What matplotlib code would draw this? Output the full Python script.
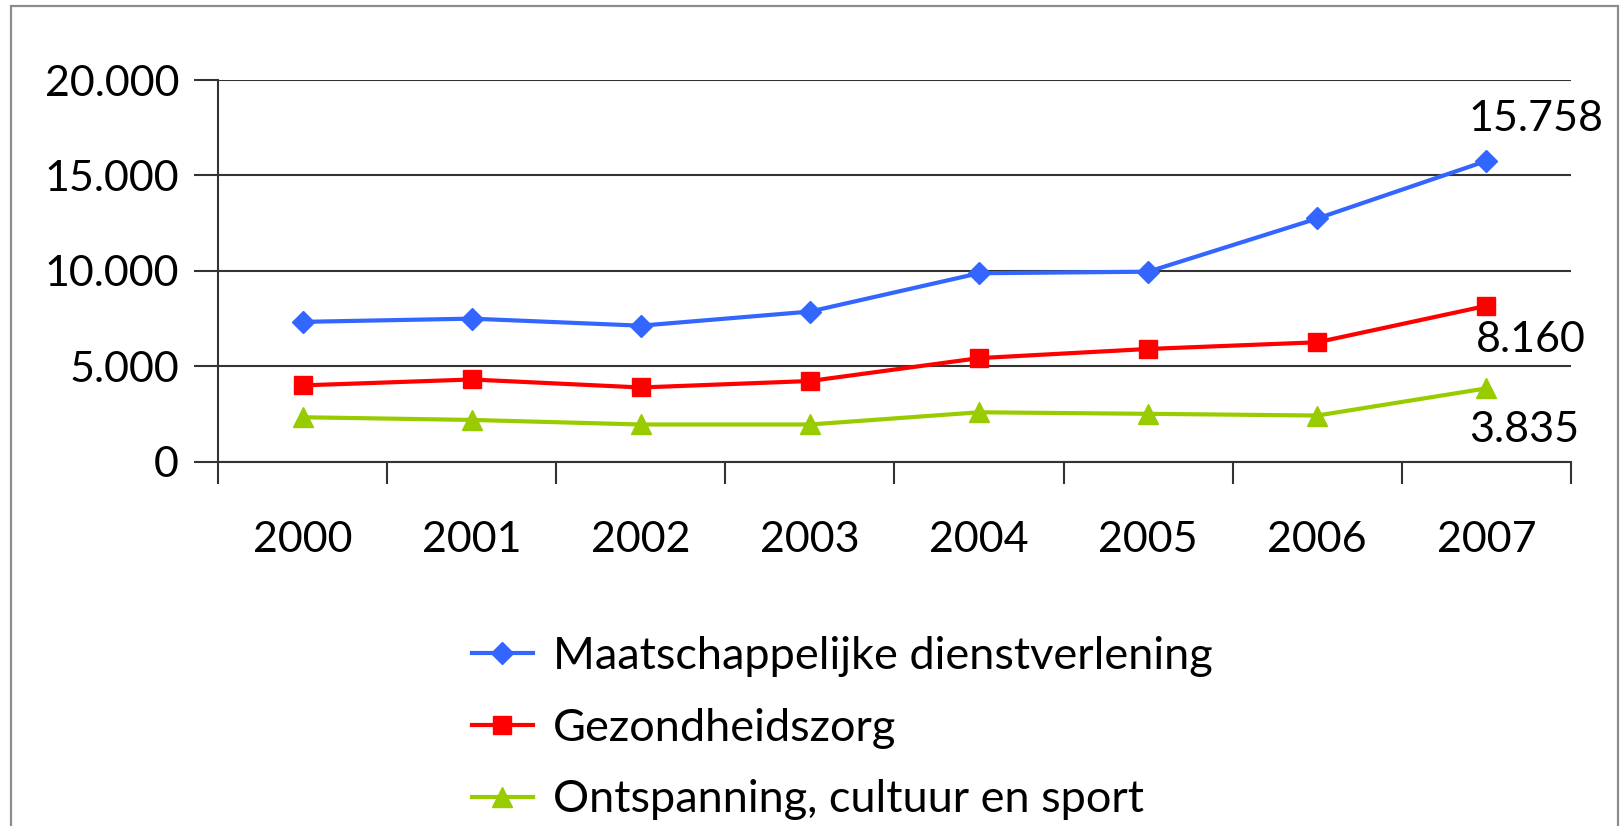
import matplotlib
matplotlib.use("Agg")
import matplotlib.pyplot as plt
from matplotlib.patches import Rectangle
import numpy as np

years = ["2000", "2001", "2002", "2003", "2004", "2005", "2006", "2007"]
maatschappelijk = [7320, 7490, 7120, 7860, 9870, 9950, 12740, 15758]
gezondheid = [3990, 4300, 3880, 4220, 5420, 5900, 6250, 8160]
ontspanning = [2320, 2180, 1940, 1940, 2580, 2500, 2410, 3835]
series_names = ["Maatschappelijke dienstverlening", "Gezondheidszorg",
                "Ontspanning, cultuur en sport"]
yticks = [0, 5000, 10000, 15000, 20000]
ytick_labels = ["0", "5.000", "10.000", "15.000", "20.000"]

plt.rcParams['font.family'] = ['Lato', 'DejaVu Sans']

fig = plt.figure(figsize=(16.2, 8.26), dpi=100)
fig.patch.set_facecolor("white")
fig.patches.append(Rectangle((11/1620, -0.1), (1618-11)/1620, 1.1 - 6/826,
                             transform=fig.transFigure, fill=False,
                             edgecolor="#8c8c8c", linewidth=1.6))

ax = fig.add_axes([218/1620, 1-461.5/826, (1571-218)/1620, (461.5-80)/826])
x = np.arange(len(years)) + 0.5

ax.plot(x, maatschappelijk, color="#3366FF", lw=3, marker="D", ms=11,
        label=series_names[0], zorder=3)
ax.plot(x, gezondheid, color="#FF0000", lw=3, marker="s", ms=13,
        label=series_names[1], zorder=3)
ax.plot(x, ontspanning, color="#99CC00", lw=3, marker="^", ms=14,
        label=series_names[2], zorder=3)

ax.set_xlim(0, len(years))
ax.set_ylim(0, 20000)
ax.set_yticks(yticks)
ax.set_yticklabels(ytick_labels, fontsize=31)
ax.set_xticks(np.arange(len(years) + 1))
ax.set_xticklabels([])
ax.set_xticks(x, minor=True)
ax.set_xticklabels(years, minor=True, fontsize=31)
ax.tick_params(axis="x", which="minor", length=0, pad=43)
ax.tick_params(axis="x", which="major", length=16, width=1.5, color="#333333", direction="out")
ax.tick_params(axis="y", length=17, width=1.5, color="#333333", direction="out", pad=11)
ax.grid(axis="y", color="#333333", linewidth=1.5)
ax.set_axisbelow(True)
for s in ["top", "right"]:
    ax.spines[s].set_visible(False)
ax.spines["left"].set_color("#333333")
ax.spines["left"].set_linewidth(1.5)
ax.spines["bottom"].set_color("#333333")
ax.spines["bottom"].set_linewidth(1.5)

last = len(years) - 1
fmt = lambda v: f"{v:,}".replace(",", ".")
ax.annotate(fmt(maatschappelijk[last]), (x[last], maatschappelijk[last]),
            xytext=(50, 42), textcoords="offset pixels", fontsize=31,
            ha="center", va="center")
ax.annotate(fmt(gezondheid[last]), (x[last], gezondheid[last]),
            xytext=(44, -34), textcoords="offset pixels", fontsize=31,
            ha="center", va="center")
ax.annotate(fmt(ontspanning[last]), (x[last], ontspanning[last]),
            xytext=(38, -42), textcoords="offset pixels", fontsize=31,
            ha="center", va="center")

leg = fig.legend(loc="upper left", bbox_to_anchor=(472/1620, 1-636/826),
                 frameon=False, fontsize=32.5, handlelength=1.35,
                 labelspacing=0.68, handletextpad=0.45, borderaxespad=0,
                 borderpad=0)

fig.savefig("out.png", dpi=100)
